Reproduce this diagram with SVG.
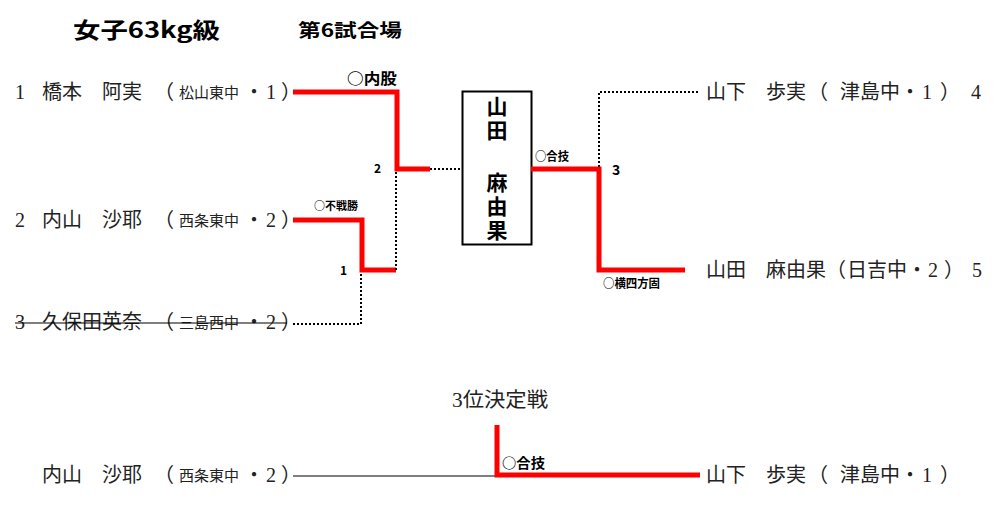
<svg xmlns="http://www.w3.org/2000/svg" width="1000" height="506" viewBox="0 0 1000 506">
<style>
.nm{font-family:"Liberation Serif","Noto Sans CJK JP",serif;font-size:20px;fill:#222}
.sm{font-family:"Liberation Serif","Noto Sans CJK JP",serif;font-size:15px;fill:#222}
.lb{font-family:"Noto Sans CJK JP",sans-serif;font-weight:bold;fill:#000}
.vt{writing-mode:vertical-rl;letter-spacing:3px}
.red{stroke:#ff0000;stroke-width:5;fill:none}
.dot{stroke:#000;stroke-width:2;stroke-dasharray:2 2;fill:none}
.thin{stroke:#000;stroke-width:1.2;fill:none}
</style>
<g id="title">
<text class="lb" x="73" y="38" font-size="22" textLength="147" lengthAdjust="spacingAndGlyphs">女子63kg級</text>
<text class="lb" x="298" y="37" font-size="18" textLength="104" lengthAdjust="spacingAndGlyphs">第6試合場</text>
</g>
<g id="p1">
<text class="nm" x="15" y="99">1</text>
<text class="nm" x="42" y="99">橋本　阿実</text>
<text class="nm" x="154" y="99">（</text>
<text class="sm" x="179" y="98">松山東中</text>
<text class="nm" x="244" y="99">・</text>
<text class="nm" x="266" y="99">1</text>
<text class="nm" x="281" y="99">）</text>
</g>
<g id="p2">
<text class="nm" x="15" y="227">2</text>
<text class="nm" x="42" y="227">内山　沙耶</text>
<text class="nm" x="154" y="227">（</text>
<text class="sm" x="179" y="226">西条東中</text>
<text class="nm" x="244" y="227">・</text>
<text class="nm" x="266" y="227">2</text>
<text class="nm" x="281" y="227">）</text>
</g>
<g id="p3">
<text class="nm" x="15" y="329">3</text>
<text class="nm" x="42" y="329">久保田英奈</text>
<text class="nm" x="154" y="329">（</text>
<text class="sm" x="179" y="328">三島西中</text>
<text class="nm" x="244" y="329">・</text>
<text class="nm" x="266" y="329">2</text>
<text class="nm" x="281" y="329">）</text>
<line class="thin" x1="15" y1="323" x2="287" y2="323"/>
</g>
<g id="p4">
<text class="nm" x="706" y="99">山下　歩実</text>
<text class="nm" x="808" y="99">（</text>
<text class="nm" x="840" y="99">津島中</text>
<text class="nm" x="900" y="99">・</text>
<text class="nm" x="922" y="99">1</text>
<text class="nm" x="940" y="99">）</text>
<text class="nm" x="971" y="99">4</text>
</g>
<g id="p5">
<text class="nm" x="706" y="277">山田　麻由果</text>
<text class="nm" x="826" y="277">（</text>
<text class="nm" x="847" y="277">日吉中</text>
<text class="nm" x="907" y="277">・</text>
<text class="nm" x="928" y="277">2</text>
<text class="nm" x="944" y="277">）</text>
<text class="nm" x="972" y="277">5</text>
</g>
<g id="winner">
<rect x="462.5" y="91.5" width="69" height="153" fill="#fff" stroke="#000" stroke-width="2"/>
<text class="lb vt" x="497" y="96" font-size="21">山田</text>
<text class="lb vt" x="497" y="172" font-size="21">麻由果</text>
</g>
<g id="third">
<text class="nm" x="452" y="407" font-size="18" textLength="96" lengthAdjust="spacingAndGlyphs">3位決定戦</text>
<text class="nm" x="42" y="482">内山　沙耶</text>
<text class="nm" x="154" y="482">（</text>
<text class="sm" x="179" y="481">西条東中</text>
<text class="nm" x="244" y="482">・</text>
<text class="nm" x="266" y="482">2</text>
<text class="nm" x="281" y="482">）</text>
<text class="nm" x="706" y="482">山下　歩実</text>
<text class="nm" x="808" y="482">（</text>
<text class="nm" x="840" y="482">津島中</text>
<text class="nm" x="900" y="482">・</text>
<text class="nm" x="922" y="482">1</text>
<text class="nm" x="940" y="482">）</text>
</g>
<g id="connectors">
<polyline class="red" points="293,92 397,92 397,169 430,169"/>
<line class="dot" x1="430" y1="169" x2="462" y2="169"/>
<polyline class="red" points="293,220 362,220 362,270 396,270"/>
<line class="dot" x1="396" y1="270" x2="396" y2="171"/>
<polyline class="dot" points="293,324 361,324 361,272"/>
<polyline class="red" points="531,169 599,169 599,270 685,270"/>
<polyline class="dot" points="599,167 599,92 700,92"/>
<line class="thin" x1="293" y1="476" x2="497" y2="476"/>
<polyline class="red" points="497,425 497,475 700,475"/>
</g>
<g id="labels" class="lb">
<text x="347" y="84" font-size="15" textLength="50" lengthAdjust="spacingAndGlyphs">○内股</text>
<text x="314" y="210" font-size="11">○不戦勝</text>
<text x="374" y="173" font-size="12">2</text>
<text x="340" y="275" font-size="12">1</text>
<text x="535" y="161" font-size="12" textLength="34" lengthAdjust="spacingAndGlyphs">○合技</text>
<text x="612" y="175" font-size="14">3</text>
<text x="603" y="288" font-size="12" textLength="57" lengthAdjust="spacingAndGlyphs">○横四方固</text>
<text x="502" y="468" font-size="14" textLength="43" lengthAdjust="spacingAndGlyphs">○合技</text>
</g>
</svg>
